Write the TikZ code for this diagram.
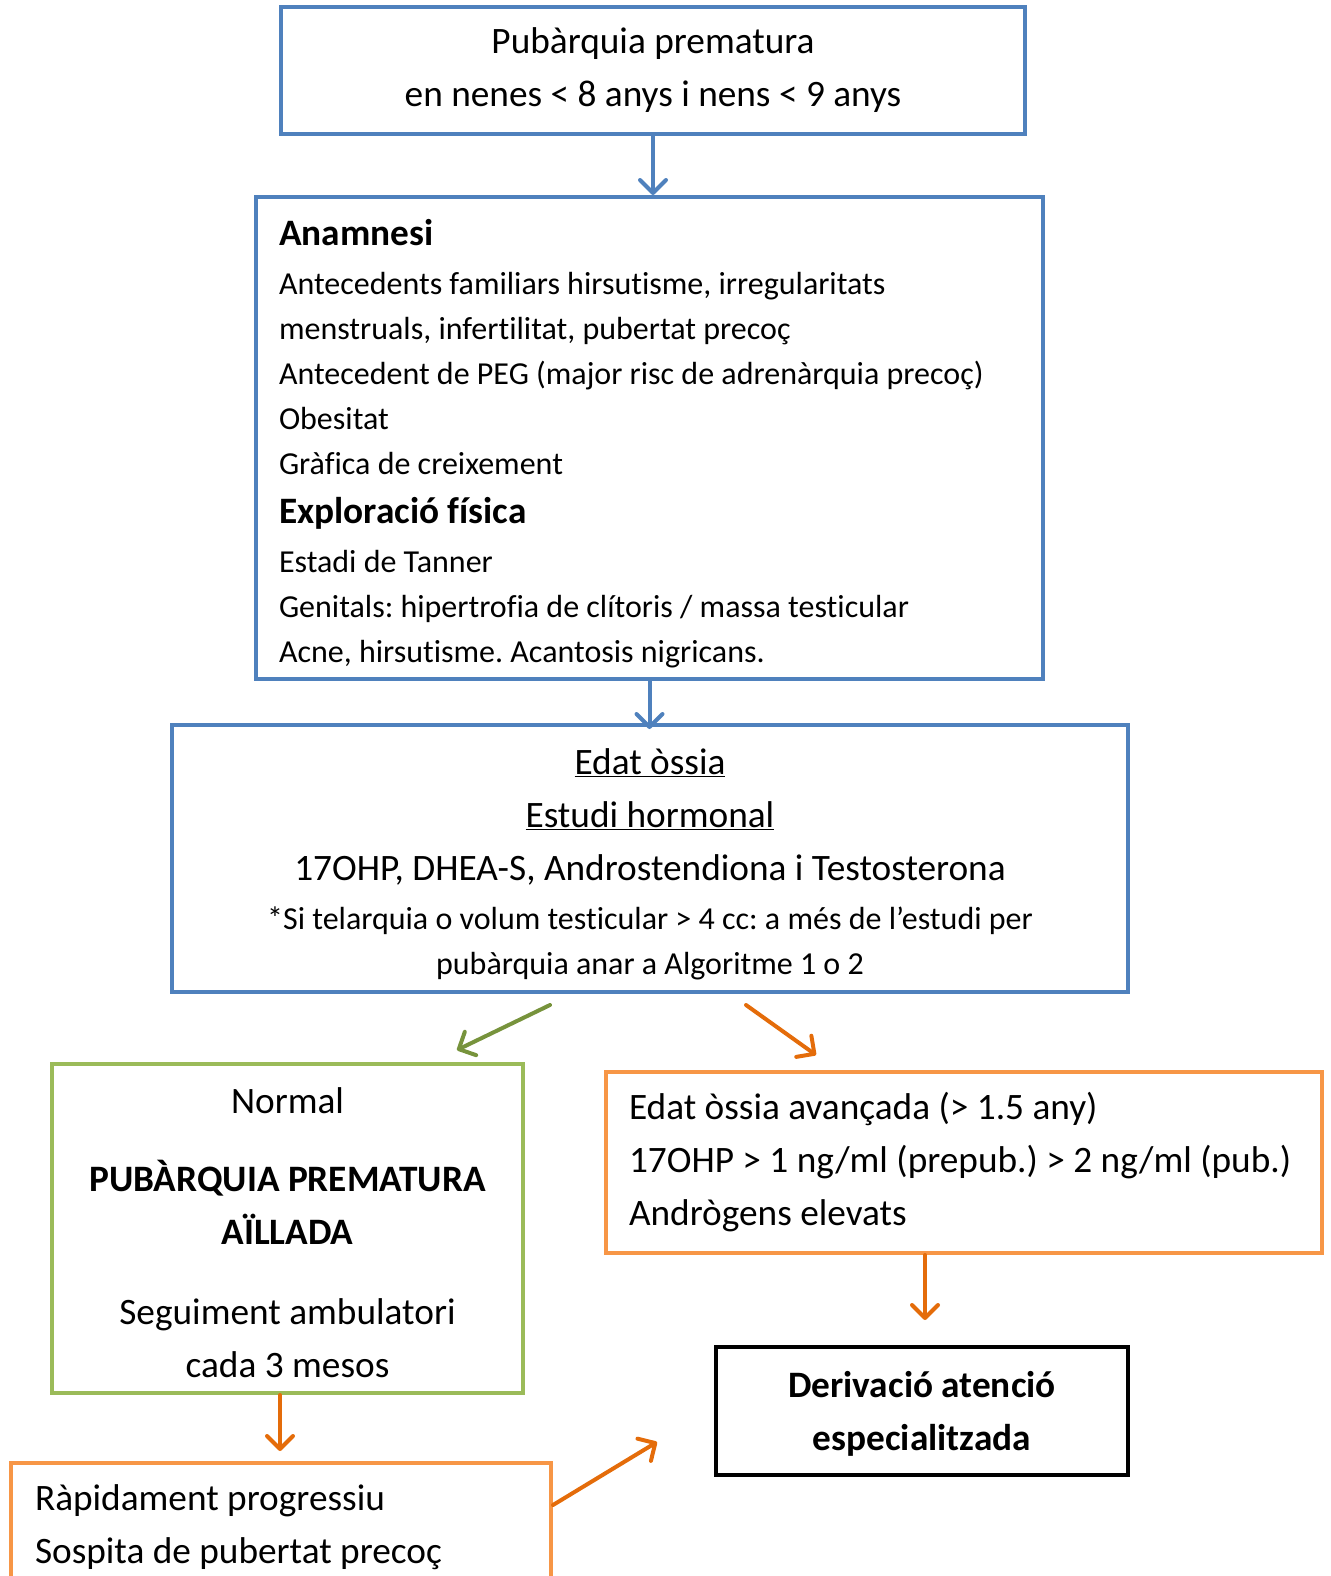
\documentclass[tikz,border=0pt]{standalone}
\usepackage{fontspec}
\setmainfont{Carlito}[Ligatures={NoCommon,NoContextual}]
\usetikzlibrary{arrows.meta}
\frenchspacing

\definecolor{boxblue}{HTML}{4F81BD}
\definecolor{boxgreen}{HTML}{9BBB59}
\definecolor{boxorange}{HTML}{F79646}
\definecolor{arrgreen}{HTML}{77933C}
\definecolor{arrorange}{HTML}{E46C0A}

\newcommand{\fsmall}{\fontsize{32}{45}\selectfont}
\newcommand{\flarge}{\fontsize{37.3}{53}\selectfont}
\newcommand{\vpush}[1]{\rule{0pt}{#1}}

\tikzset{
  fbox/.style={draw, line width=4pt, inner ysep=0pt},
  farrow/.style={line width=4pt, line cap=round,
    -{Straight Barb[length=13pt, width=26pt, round]}}
}

\begin{document}
\begin{tikzpicture}[x=1pt, y=-1pt]
  \useasboundingbox (0,0) rectangle (1330,1576);
  % boxes
  \node[fbox, draw=boxblue, minimum width=744pt, minimum height=127pt,
        align=center, font=\flarge] (pub) at (653,70.5)
    {Pubàrquia prematura\\en nenes < 8 anys i nens < 9 anys};
  \node[fbox, draw=boxblue, minimum width=787pt, minimum height=482pt,
        inner xsep=23pt, text width=741pt, align=flush left, font=\fsmall] (anam) at (649.5,438)
    {\vpush{37pt}{\flarge\bfseries Anamnesi}\\[4pt]
     Antecedents familiars hirsutisme, irregularitats\\
     menstruals, infertilitat, pubertat precoç\\
     Antecedent de PEG (major risc de adrenàrquia precoç)\\
     Obesitat\\
     Gràfica de creixement\\[4pt]
     {\flarge\bfseries Exploració física}\\[4pt]
     Estadi de Tanner\\
     Genitals: hipertrofia de clítoris / massa testicular\\
     Acne, hirsutisme. Acantosis nigricans.};
  \node[fbox, draw=boxblue, minimum width=956pt, minimum height=267pt,
        align=center, font=\fsmall] (estudi) at (650,858.5)
    {\vpush{37pt}{\flarge\underline{Edat òssia}}\\[8pt]
     {\flarge\underline{Estudi hormonal}}\\[8pt]
     {\flarge 17OHP, DHEA-S, Androstendiona i Testosterona}\\[4pt]
     *Si telarquia o volum testicular > 4 cc: a més de l’estudi per\\
     pubàrquia anar a Algoritme 1 o 2};
  \node[fbox, draw=boxgreen, minimum width=471pt, minimum height=329pt,
        align=center, font=\flarge] (normal) at (287.5,1228.5)
    {\vpush{34pt}Normal\\[25pt]
     {\bfseries PUBÀRQUIA PREMATURA}\\
     {\bfseries AÏLLADA}\\[27pt]
     Seguiment ambulatori\\
     cada 3 mesos};
  \node[fbox, draw=boxorange, minimum width=716pt, minimum height=181pt,
        inner xsep=23pt, text width=670pt, align=flush left, font=\flarge] (avan) at (964,1162.5)
    {Edat òssia avançada (> 1.5 any)\\
     17OHP > 1 ng/ml (prepub.) > 2 ng/ml (pub.)\\
     Andrògens elevats};
  \node[fbox, draw=black, minimum width=412pt, minimum height=128pt,
        align=center, font=\flarge\bfseries] (deriv) at (922,1411)
    {\vpush{32pt}Derivació atenció\\especialitzada};
  \node[fbox, draw=boxorange, anchor=north west, minimum width=540pt, minimum height=128pt,
        inner xsep=24pt, text width=492pt, align=flush left, font=\flarge] (rapid) at (9,1461)
    {Ràpidament progressiu\\
     Sospita de pubertat precoç};
  % free arrow ends
  \coordinate (gfrom) at (550,1005);
  \coordinate (gto) at (457,1050);
  \coordinate (ofrom) at (746,1005);
  \coordinate (oto) at (816,1055);
  \coordinate (dfrom) at (925,1255);
  \coordinate (dto) at (925,1320);
  \coordinate (lto) at (280,1451);
  \coordinate (rto) at (657,1442);
  % arrows
  \draw[farrow, boxblue] (pub.south) -- (pub.south |- anam.north);
  \draw[farrow, boxblue] (anam.south) -- ([yshift=-6pt]anam.south |- estudi.north);
  \draw[farrow, arrgreen] (gfrom) -- (gto);
  \draw[farrow, arrorange] (ofrom) -- (oto);
  \draw[farrow, arrorange] (dfrom) -- (dto);
  \draw[farrow, arrorange] (normal.south -| lto) -- (lto);
  \draw[farrow, arrorange] (rapid.east |- 0,1505) -- (rto);
\end{tikzpicture}
\end{document}
